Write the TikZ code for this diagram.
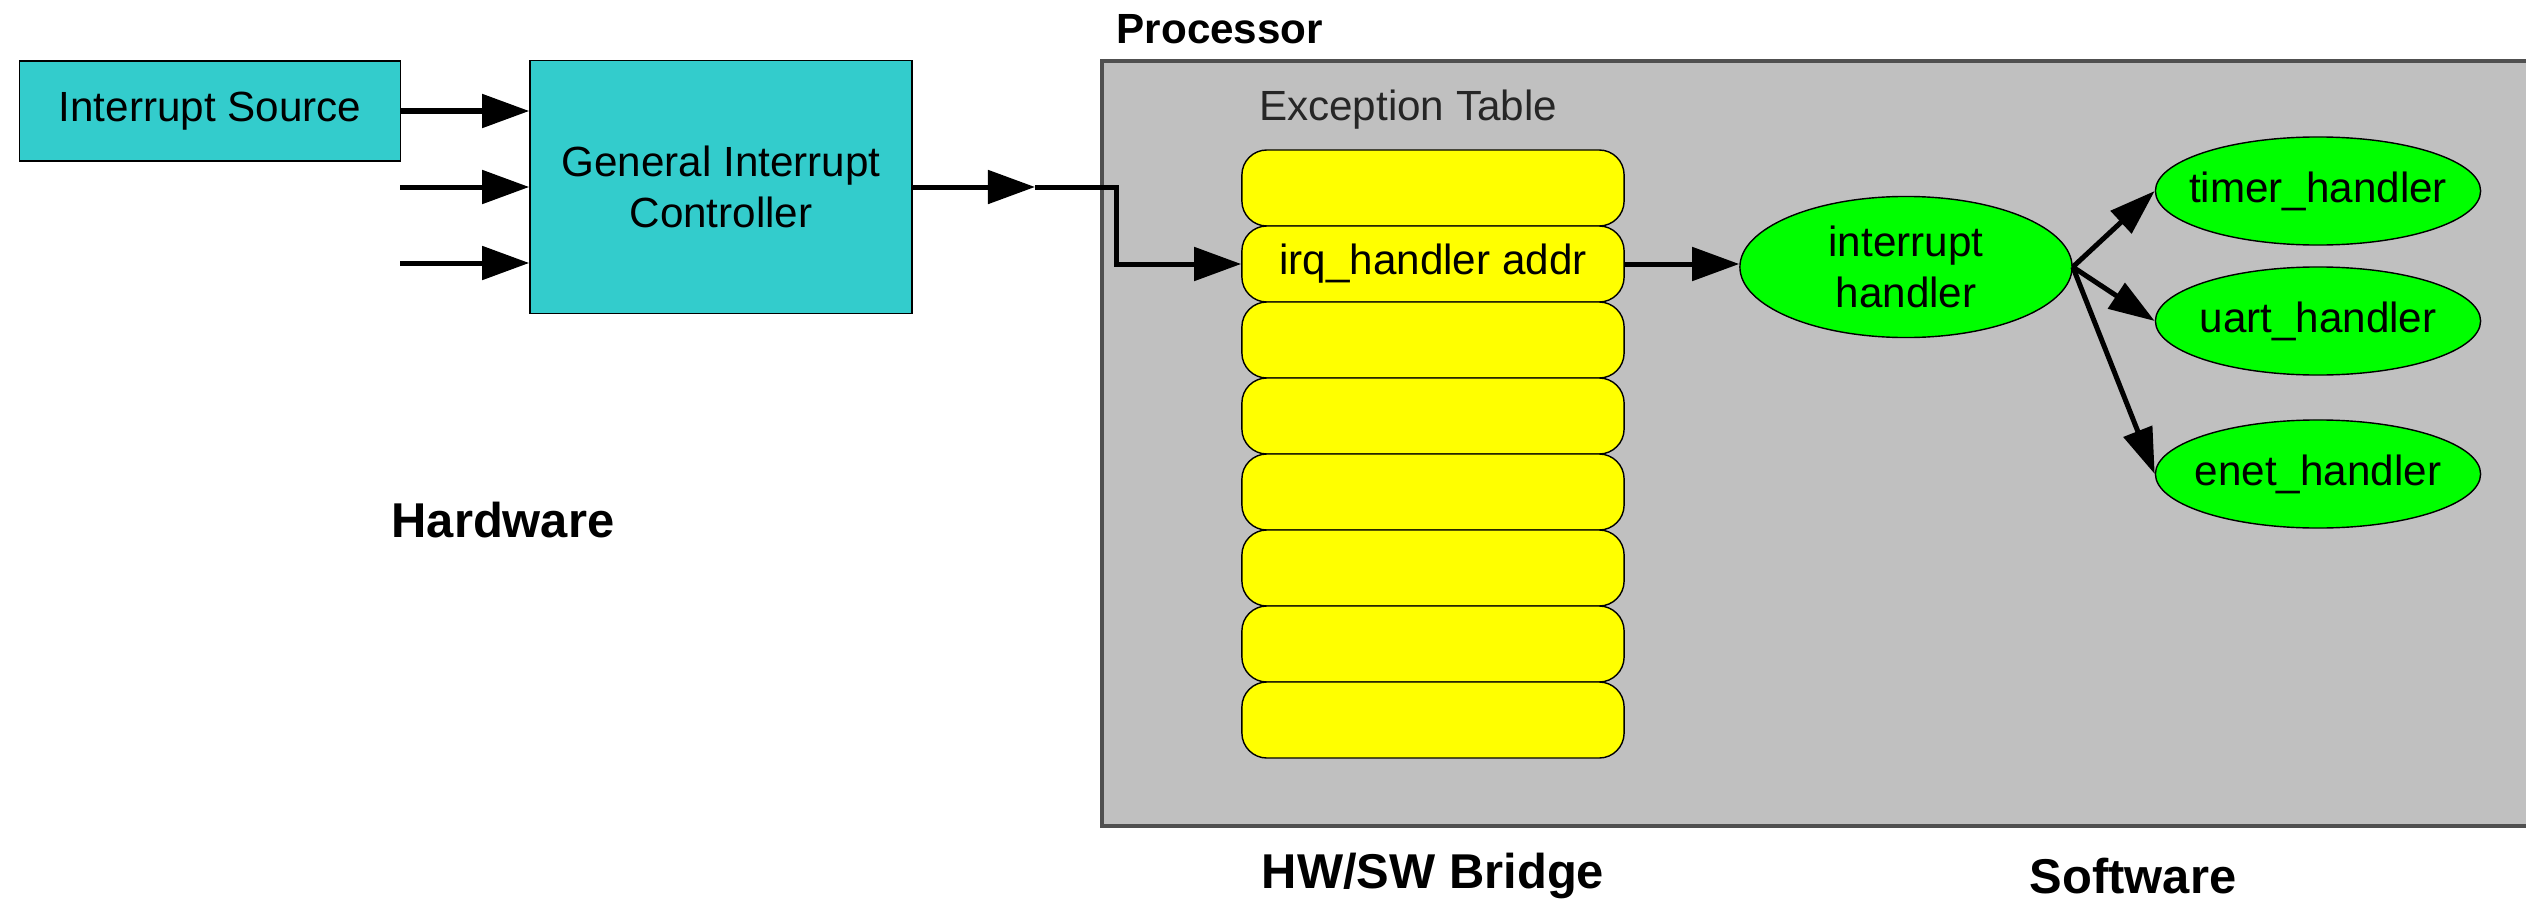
\documentclass[tikz,border=0pt]{standalone}
\usepackage{fontspec}
\setmainfont{Liberation Sans}
\usepackage{tikz}
\usetikzlibrary{shapes.geometric,arrows.meta,positioning}
\definecolor{hwcyan}{RGB}{51,204,204}
\definecolor{slotyellow}{RGB}{255,255,0}
\definecolor{swgreen}{RGB}{0,255,0}
\definecolor{cpugray}{RGB}{192,192,192}
\definecolor{cpuedge}{RGB}{80,80,80}
\tikzset
{
    hwbox/.style   = {rectangle, draw=black, fill=hwcyan, align=center, font=\fontsize{12}{14.5}\selectfont},
    slot/.style    = {rectangle, rounded corners=0.25cm, draw=black, fill=slotyellow, minimum width=3.82cm, minimum height=0.76cm, font=\fontsize{12}{14}\selectfont},
    handler/.style = {ellipse, draw=black, fill=swgreen, align=center, inner ysep=0pt, inner xsep=-0.25cm, font=\fontsize{12}{14.5}\selectfont},
    region/.style  = {inner sep=0pt, font=\fontsize{13.9}{16}\selectfont\bfseries},
    bus/.style     = {line width=0.05cm, -{Triangle[length=0.47cm,width=0.33cm]}},
    call/.style    = {line width=0.05cm, -{Triangle[length=0.46cm,width=0.3cm]}}
}

\begin{document}
\begin{tikzpicture}[x=0.01cm,y=-0.01cm]
\useasboundingbox (0,0) rectangle (2526,900);
% processor area
\draw[draw=cpuedge, line width=0.035cm, fill=cpugray] (1102,61) rectangle (2700,826);
\node [region, anchor=west, font=\fontsize{12}{14}\selectfont\bfseries] at (1116,29) (proc) {Processor};
\node [inner sep=0pt, text=black!85, font=\fontsize{12}{14}\selectfont] at (1408,110) (extab) {Exception Table};
% hardware
\node [hwbox, minimum width=3.81cm, minimum height=1cm] at (210,111) (src) {Interrupt Source};
\node [hwbox, minimum width=3.82cm, minimum height=2.53cm] at (721,187) (gic) {General Interrupt\\Controller};
\coordinate (in2) at (400,187);
\coordinate (in3) at (400,263);
\coordinate (gicout) at (1035,187);
\coordinate (bend) at (1116,187);
% exception table slots
\foreach \i in {1,...,8}
    \node [slot] at (1433,{188+76*(\i-1)}) (e\i) {\ifnum\i=2 irq\_handler addr\fi};
% software
\node [handler, minimum width=3.32cm, minimum height=1.41cm] at (1906,267) (irq) {interrupt\\handler};
\node [handler, minimum width=3.25cm, minimum height=1.08cm] at (2318,191) (timer) {timer\_handler};
\node [handler, minimum width=3.25cm, minimum height=1.08cm] at (2318,321) (uart) {uart\_handler};
\node [handler, minimum width=3.25cm, minimum height=1.08cm] at (2318,474) (enet) {enet\_handler};
% labels
\node [region] at (503,520) (hw) {Hardware};
\node [region] at (1433,876) (bridge) {HW/SW Bridge};
\node [region] at (2133,876) (sw) {Software};
% connections
\draw [bus] (src.east) -- (src.east -| gic.west);
\draw [bus] (in2) -- (in2 -| gic.west);
\draw [bus] (in3) -- (in3 -| gic.west);
\draw [bus] (gic.east) -- (gicout);
\draw [bus] (gicout) -- (bend) |- (e2.west);
\draw [bus] (e2.east) -- (e2.east -| irq.west);
\draw [call] (irq.east) -- (timer.west);
\draw [call] (irq.east) -- (uart.west);
\draw [call] (irq.east) -- (enet.west);
\end{tikzpicture}
\end{document}
